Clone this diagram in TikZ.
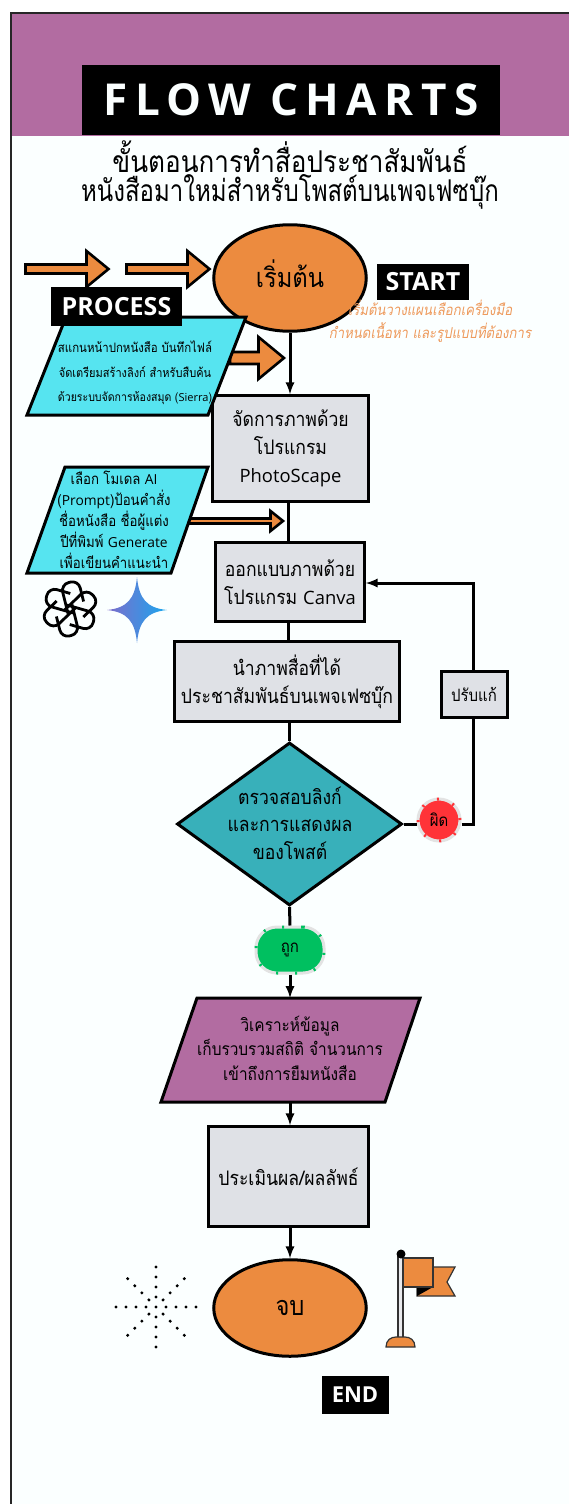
\documentclass[tikz,border=0pt]{standalone}
\usepackage{fontspec}
\usetikzlibrary{shapes.geometric}
\setmainfont{Open Sans}
\newfontfamily\thaifont[Script=Thai,FakeStretch=0.88]{Loma}
\newfontfamily\thaislant[Script=Thai,FakeSlant=0.18,FakeStretch=0.88]{Loma}
\newfontfamily\headone[Script=Thai,FakeStretch=0.87]{Loma}
\newfontfamily\headtwo[Script=Thai,FakeStretch=0.8]{Loma}
\newfontfamily\titlefont[LetterSpace=17]{Open Sans}
\newfontfamily\latinbody[Scale=0.92]{Open Sans}
\newcommand{\lat}[1]{{\latinbody #1}}
\definecolor{bandpurple}{HTML}{B26CA1}
\definecolor{pageblue}{HTML}{FBFFFF}
\definecolor{flowgray}{HTML}{DFE1E6}
\definecolor{floworange}{HTML}{EC8B3F}
\definecolor{flowcyan}{HTML}{56E4F0}
\definecolor{flowteal}{HTML}{38B0BA}
\definecolor{flowred}{HTML}{FF3338}
\definecolor{flowgreen}{HTML}{00C060}
\definecolor{notetext}{HTML}{EE9A5C}
\definecolor{starleft}{HTML}{7D6CCB}
\definecolor{starright}{HTML}{1AA7EE}
\tikzset{
  greybox/.style={draw=black, fill=flowgray, line width=3pt, inner sep=0pt, align=center, text=black, font=\thaifont\fontsize{20}{28}\selectfont},
  oval/.style={ellipse, draw=black, fill=floworange, line width=3pt, inner sep=0pt, minimum width=152.5pt, align=center, font=\thaifont\fontsize{27}{30}\selectfont},
  tag/.style={fill=black, text=white, font=\bfseries\fontsize{25}{30}\selectfont, inner sep=0pt},
  flowline/.style={black, line width=3pt},
  flowarrow/.style={black, line width=3pt, -latex},
  slanted/.style={draw=black, line width=3pt, line join=miter},
  paratext/.style={inner sep=0pt, align=center, text=black},
  decision/.style={inner sep=0pt, align=center, text=black, line width=3pt, draw=gray!22, font=\thaifont\fontsize{17}{20}\selectfont},
  dot/.style={fill=black, circle, inner sep=0pt, minimum size=3.4pt}
}
% block arrow: x start, x of head, x tip, y, half shaft, half head
\newcommand{\blockarrow}[6]{
  \filldraw[draw=black, fill=floworange, line width=2.6pt, line join=miter]
    (#1,#4-#5) -- (#2,#4-#5) -- (#2,#4-#6) -- (#3,#4) -- (#2,#4+#6) -- (#2,#4+#5) -- (#1,#4+#5) -- cycle;
}
\begin{document}
\begin{tikzpicture}[x=1pt, y=-1pt]
\useasboundingbox (0,0) rectangle (569,1504);

% page and title band
\fill[white] (0,0) rectangle (569,1504);
\fill[pageblue] (10,12) rectangle (569,1504);
\fill[bandpurple] (10,12) rectangle (569,136);
\draw[black!85, line width=2pt] (11,1504) -- (11,13) -- (569,13);
\node[fill=black, minimum width=418pt, minimum height=70pt, inner sep=0pt, text=pageblue] (title) at (291,100)
  {\titlefont\bfseries\fontsize{44}{50}\selectfont FLOW CHARTS};
\node[paratext] (heading) at (290,175)
  {{\headone\fontsize{30}{29}\selectfont ขั้นตอนการทำสื่อประชาสัมพันธ์}\\[1pt]
   {\headtwo\fontsize{30}{29}\selectfont หนังสือมาใหม่สำหรับโพสต์บนเพจเฟซบุ๊ก}};

% input arrows at the top
\blockarrow{25.5}{86.5}{108.5}{269}{4.5}{18}
\blockarrow{126.5}{187.5}{209.5}{269}{4.5}{18}
\blockarrow{230}{258.5}{284}{358}{6}{21}

% main column
\node[oval, minimum height=106.5pt] (start) at (290,278) {\raisebox{9pt}{เริ่มต้น}};
\node[greybox, minimum width=155.5pt, minimum height=105.5pt] (photo) at (290.5,448.5)
  {จัดการภาพด้วย\\โปรแกรม\\\lat{PhotoScape}};
\node[greybox, minimum width=148.5pt, minimum height=78.5pt] (canva) at (290,582)
  {ออกแบบภาพด้วย\\โปรแกรม \lat{Canva}};
\node[greybox, minimum width=224.5pt, minimum height=79.5pt] (post) at (287,681.5)
  {นำภาพสื่อที่ได้\\ประชาสัมพันธ์บนเพจเฟซบุ๊ก};
\node[diamond, draw=black, fill=flowteal, line width=3pt, inner sep=0pt, aspect=1.39, minimum width=225pt, minimum height=163pt] (check) at (289.5,824) {};
\node[paratext, font=\thaifont\fontsize{20}{27.5}\selectfont] (checktext) at (290,823)
  {ตรวจสอบลิงก์\\และการแสดงผล\\ของโพสต์};
\node[greybox, minimum width=66pt, minimum height=46pt, font=\thaifont\fontsize{17}{20}\selectfont] (revise) at (474,694) {ปรับแก้};
\node[decision, circle, fill=flowred, minimum size=42pt,
  postaction={draw=flowred, line width=3pt, dash pattern=on 2pt off 14.5pt}] (wrong) at (439,820) {ผิด};
\node[decision, rounded corners=21pt, fill=flowgreen, minimum width=68pt, minimum height=46pt,
  postaction={draw=flowgreen, line width=3pt, dash pattern=on 2pt off 17pt}] (right) at (290,950) {ถูก};

\filldraw[slanted, fill=bandpurple] (197,998) -- (420,998) -- (385,1102) -- (161,1102) -- cycle;
\coordinate (analysetop) at (290,998);
\coordinate (analysebot) at (290,1102);
\node[paratext, font=\thaifont\fontsize{17.5}{24.5}\selectfont] (analyse) at (290,1048)
  {วิเคราะห์ข้อมูล\\เก็บรวบรวมสถิติ จำนวนการ\\เข้าถึงการยืมหนังสือ};
\node[greybox, minimum width=159.5pt, minimum height=99.5pt] (result) at (288.5,1176.5) {ประเมินผล/ผลลัพธ์};
\node[oval, minimum height=96.5pt] (finish) at (290,1308) {จบ};

% connectors
\draw[flowarrow] (start) -- (start |- photo.north);
\draw[flowline] (288,502) -- (288,542);
\draw[flowline] (288,622) -- (288,641);
\draw[flowline] (post.south -| check.north) -- (check.north);
\draw[flowline] (check.east) -- (wrong.west |- check.east);
\draw[flowline] (wrong.east |- check.east) -- (473,824) -- (473,718);
\draw[flowarrow] (473,670) -- (473,583) -- (canva.east |- 0,583);
\draw[flowline] (check.south) -- (right.north);
\draw[flowarrow] (right.south) -- (analysetop);
\draw[flowarrow] (analysebot) -- (analysebot |- result.north);
\draw[flowarrow] (result.south -| finish.north) -- (finish.north);

% left side inputs
\filldraw[slanted, fill=flowcyan] (66,317) -- (246,317) -- (208,415) -- (27,415) -- cycle;
\node[paratext, font=\thaifont\fontsize{13}{24.5}\selectfont] (scan) at (135,373)
  {สแกนหน้าปกหนังสือ บันทึกไฟล์\\{\fontsize{12.5}{24.5}\selectfont จัดเตรียมสร้างลิงก์ สำหรับสืบค้น}\\{\fontsize{12}{24.5}\selectfont ด้วยระบบจัดการห้องสมุด (\lat{Sierra})}};
\node[tag, minimum width=131pt, minimum height=39pt] (process) at (116.5,306.5) {PROCESS};
\blockarrow{189}{270.5}{283}{521}{2.5}{10}
\filldraw[slanted, fill=flowcyan] (65,467) -- (208,467) -- (171,573) -- (27,573) -- cycle;
\node[paratext, font=\thaifont\fontsize{15}{21}\selectfont] (prompt) at (114,520)
  {เลือก โมเดล \lat{AI}\\(\lat{Prompt})ป้อนคำสั่ง\\ชื่อหนังสือ ชื่อผู้แต่ง\\ปีที่พิมพ์ \lat{Generate}\\เพื่อเขียนคำแนะนำ};

% the two logos
\foreach \a in {14,74,...,314}
  \draw[black, line width=2.8pt, rounded corners=8pt, shift={(70,609)}, rotate=\a] (-3,4) -- (-3,-26) -- (15,-26) -- (15,-4);
\shade[left color=starleft, right color=starright] (137,577) .. controls (139,599) and (147,608) .. (167,610) .. controls (147,612) and (139,621) .. (137,643) .. controls (135,621) and (127,612) .. (107,610) .. controls (127,608) and (135,599) .. (137,577) -- cycle;

% notes on the right
\node[tag, minimum width=92pt, minimum height=36pt] (startlabel) at (423,282) {START};
\node[paratext, text=notetext, font=\thaislant\fontsize{15}{22.5}\selectfont] (startnote) at (430,321)
  {เริ่มต้นวางแผนเลือกเครื่องมือ\\กำหนดเนื้อหา และรูปแบบที่ต้องการ};
\node[tag, minimum width=67pt, minimum height=38pt, font=\bfseries\fontsize{22}{26}\selectfont] (endlabel) at (355,1395) {END};

% burst of dots
\node[dot] (burst) at (156,1307) {};
\foreach \a in {0,45,...,315}
  \foreach \r in {10,20,30,40}
    \node[dot] at ([shift={(\a:\r)}]burst) {};

% flag
\filldraw[draw=black!80, fill=flowgray!70, line width=1.2pt] (398,1256) rectangle (403,1338);
\filldraw[draw=black!80, fill=floworange, line width=1.2pt] (417,1267) -- (455,1267) -- (447,1282) -- (455,1296) -- (417,1296) -- cycle;
\fill[black] (417,1287) -- (433,1287) -- (417,1296) -- cycle;
\filldraw[draw=black!80, fill=floworange, line width=1.2pt] (403,1258) rectangle (433,1287);
\fill[black] (401,1254) circle (4.5);
\filldraw[draw=black!80, fill=floworange, line width=1.2pt] (386,1347) .. controls (386,1340) and (391,1337) .. (396,1337) -- (405,1337) .. controls (410,1337) and (415,1340) .. (415,1347) -- cycle;
\end{tikzpicture}
\end{document}
